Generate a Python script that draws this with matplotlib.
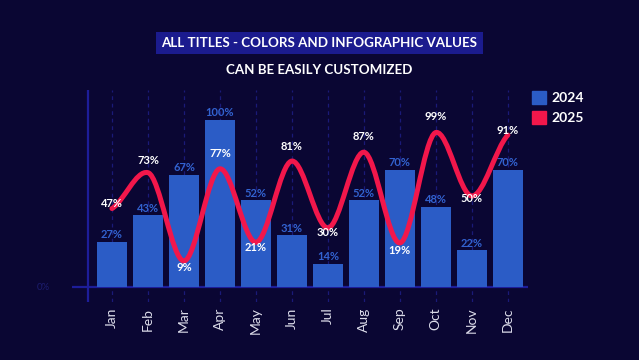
import numpy as np
import matplotlib
matplotlib.use('Agg')
import matplotlib.pyplot as plt
from matplotlib.path import Path
from matplotlib.patches import PathPatch, Rectangle

# ---------------------------
# Data
# ---------------------------
months = ['Jan', 'Feb', 'Mar', 'Apr', 'May', 'Jun',
          'Jul', 'Aug', 'Sep', 'Oct', 'Nov', 'Dec']
sales_2024 = [27, 43, 67, 100, 52, 31, 14, 52, 70, 48, 22, 70]
sales_2025 = [47, 73, 9, 77, 21, 81, 30, 87, 19, 99, 50, 91]
series_names = ['2024', '2025']
title_line1 = 'ALL TITLES - COLORS AND INFOGRAPHIC VALUES'
title_line2 = 'CAN BE EASILY CUSTOMIZED'

# ---------------------------
# Style
# ---------------------------
BG = '#0a0633'
BAR = '#2b5cc6'
BAR_LABEL = '#3262d0'
LINE = '#f2174b'
AXIS = '#1d1d9a'
GRID = '#1a1a78'
BOX = '#1b1b8e'
FONT = 'Lato'


def smooth_path(xs, ys, tension=0.1):
    """Smoothed curve (cubic bezier segments) with a little tension at knots."""
    xs = np.asarray(xs, float)
    ys = np.asarray(ys, float)
    q = ys.copy()
    q[1:-1] = (1 - tension) * ys[1:-1] + tension * 0.5 * (ys[:-2] + ys[2:])
    m = np.zeros_like(q)
    m[1:-1] = (q[2:] - q[:-2]) / 2.0 * 0.35
    m[0] = (q[1] - q[0]) * 0.6
    m[-1] = (q[-1] - q[-2]) * 0.6
    verts = [(xs[0], q[0])]
    codes = [Path.MOVETO]
    for i in range(len(xs) - 1):
        dx = xs[i + 1] - xs[i]
        verts += [(xs[i] + dx / 3, q[i] + m[i] / 3),
                  (xs[i + 1] - dx / 3, q[i + 1] - m[i + 1] / 3),
                  (xs[i + 1], q[i + 1])]
        codes += [Path.CURVE4] * 3
    return Path(verts, codes)


fig = plt.figure(figsize=(6.39, 3.6), dpi=100, facecolor=BG)
ax = fig.add_axes([0.1127, 0.161, 0.7136, 0.589])
ax.set_facecolor(BG)
x = np.arange(len(months))
ax.set_xlim(-1.11, 11.56)
ax.set_ylim(-9, 118)

for s in ax.spines.values():
    s.set_visible(False)

# dashed category grid
for xi in x:
    ax.plot([xi, xi], [-9, 118], color=GRID, lw=0.9, ls=(0, (3, 3)), zorder=0)

# axes lines
ax.axhline(0, color=AXIS, lw=1.6, zorder=1)
ax.axvline(-0.667, color=AXIS, lw=1.6, zorder=1)
ax.text(-1.9, 0, '0%', color='#1c1c6e', fontsize=7, fontfamily=FONT,
        ha='center', va='center', clip_on=False)

# bars
bars = ax.bar(x, sales_2024, width=0.83, color=BAR, zorder=2)
for xi, v in zip(x, sales_2024):
    ax.text(xi, v + 1, f'{v}%', color=BAR_LABEL, fontsize=8, fontfamily=FONT,
            fontweight='bold', ha='center', va='bottom', zorder=3)

# smoothed line
patch = PathPatch(smooth_path(x, sales_2025), facecolor='none', edgecolor=LINE,
                  lw=3.6, capstyle='round', joinstyle='round', zorder=4)
ax.add_patch(patch)
for xi, v in zip(x, sales_2025):
    ax.annotate(f'{v}%', (xi, v), xytext=(0, 3.5), textcoords='offset points',
                color='white', fontsize=8, fontfamily=FONT, fontweight='bold',
                ha='center', va='center', zorder=5)

ax.set_yticks([])
ax.set_xticks(x)
ax.set_xticklabels(months, rotation=90, color='#dcdcea', fontsize=10,
                   fontfamily=FONT)
ax.tick_params(axis='x', length=0, pad=4)

# legend
for i, (name, col) in enumerate(zip(series_names, [BAR, LINE])):
    y0 = 1 - (91 + 20 * i) / 360
    fig.patches.append(Rectangle((532 / 639, y0 - 13 / 360), 14 / 639, 13 / 360,
                                 transform=fig.transFigure, color=col))
    fig.text(551 / 639, y0 - 6.5 / 360, name, color='white', fontsize=10,
             fontfamily=FONT, fontweight='bold', va='center', ha='left')

# titles
fig.text(0.5, 1 - 43 / 360, title_line1, color='white', fontsize=9.6,
         fontfamily=FONT, fontweight='bold', ha='center', va='center',
         bbox=dict(boxstyle='square,pad=0.4', facecolor=BOX, edgecolor='none'))
fig.text(0.5, 1 - 70 / 360, title_line2, color='white', fontsize=9.6,
         fontfamily=FONT, fontweight='bold', ha='center', va='center')

fig.savefig('out.png', dpi=100, facecolor=BG)
